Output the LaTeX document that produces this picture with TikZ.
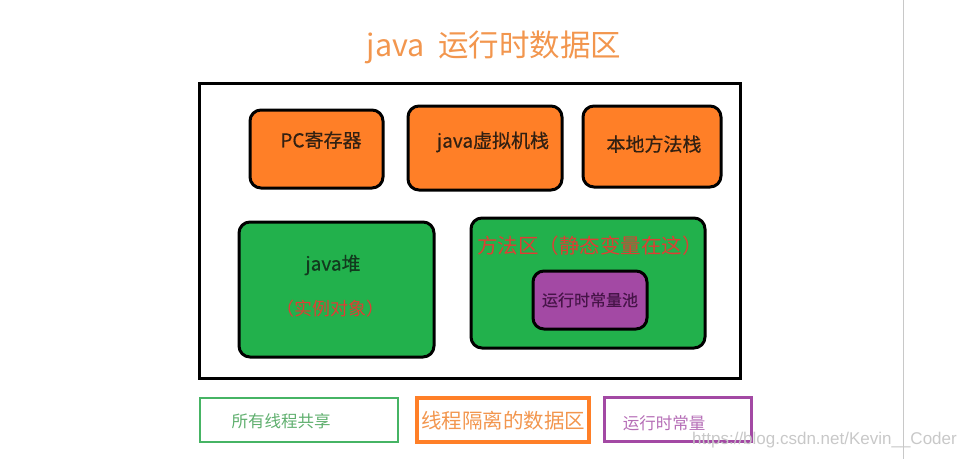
\documentclass[tikz,border=0pt]{standalone}
\usepackage{fontspec}
\setmainfont{Noto Sans CJK SC}
\newfontfamily\heavyfont[FakeBold=0.5]{Noto Sans CJK SC}
\usetikzlibrary{positioning}

\definecolor{paintorange}{RGB}{255,127,39}
\definecolor{paintgreen}{RGB}{34,177,76}
\definecolor{paintpurple}{RGB}{163,73,164}
\definecolor{titleorange}{RGB}{242,150,78}
\definecolor{notered}{RGB}{222,62,52}
\definecolor{keygreen}{RGB}{70,180,100}
\definecolor{keytext}{RGB}{95,175,110}
\definecolor{inkbrown}{RGB}{50,32,18}
\definecolor{inkgreen}{RGB}{18,58,30}
\definecolor{inkpurple}{RGB}{70,20,72}
\definecolor{markgray}{RGB}{200,200,200}

\newcommand{\px}[1]{\fontsize{#1pt}{#1pt}\selectfont}

\begin{document}
\begin{tikzpicture}[
    x=1pt,y=-1pt,
    area/.style={draw=black,line width=3pt,rounded corners=11pt,inner sep=0pt},
    tag/.style={inner sep=0pt,text=inkbrown,font=\heavyfont\px{19}},
    key/.style={line width=2.5pt,inner sep=0pt}
]
    \useasboundingbox (0,0) rectangle (968,459);

    % screenshot edge on the right
    \draw[markgray,line width=.6pt] (903,0) -- (903,459);

    \node[inner sep=0pt,text=titleorange,font=\px{30.5}] (title) at (494,47) {java\ \ 运行时数据区};

    % runtime data area frame
    \node[draw=black,line width=3pt,minimum width=541pt,minimum height=295pt,inner sep=0pt] (frame) at (469.5,230.5) {};

    % thread private areas
    \node[area,fill=paintorange,minimum width=133pt,minimum height=78pt] (pc) at (316.5,149) {};
    \node[area,fill=paintorange,minimum width=154pt,minimum height=84pt] (vmstack) at (485,148) {};
    \node[area,fill=paintorange,minimum width=138pt,minimum height=81pt] (native) at (652,146.5) {};
    \node[tag] (pctext) at (321,140) {PC寄存器};
    \node[tag] (vmstacktext) at (493,142) {java虚拟机栈};
    \node[tag] (nativetext) at (654,144) {本地方法栈};

    % shared areas
    \node[area,fill=paintgreen,minimum width=195pt,minimum height=135pt] (heap) at (336.5,289.5) {};
    \node[area,fill=paintgreen,minimum width=234pt,minimum height=130pt] (method) at (588,283) {};
    \node[tag,text=inkgreen] (heaptext) at (333,265) {java堆};
    \node[tag,text=notered,font=\px{18}] (heapnote) at (330,309) {（实例对象）};
    \node[tag,text=notered,font=\px{20.5}] (methodtext) at (590,246) {方法区（静态变量在这）};
    \node[area,fill=paintpurple,minimum width=114pt,minimum height=58pt] (pool) at (590,300) {};
    \node[tag,text=inkpurple,font=\heavyfont\px{16}] (pooltext) at (590,300) {运行时常量池};

    % legend
    \node[key,draw=keygreen,minimum width=198pt,minimum height=44pt] (shared) at (299,420) {};
    \node[tag,text=keytext,font=\px{16.5}] (sharedtext) at (281,421) {所有线程共享};
    \node[key,draw=paintorange,line width=3.5pt,minimum width=172pt,minimum height=44pt] (private) at (503,420) {};
    \node[tag,text=titleorange,font=\px{20.5}] (privatetext) at (503,421) {线程隔离的数据区};
    \node[key,draw=paintpurple,line width=3pt,minimum width=147pt,minimum height=44pt] (constant) at (677.5,419) {};
    \node[tag,text=paintpurple!80!white,font=\px{16.5}] (constanttext) at (664,423) {运行时常量};

    \node[inner sep=0pt,anchor=east,text=markgray,font=\fontspec{Liberation Sans}\fontsize{17pt}{17pt}\selectfont] (mark) at (957,440) {https://blog.csdn.net/Kevin\_\_Coder};
\end{tikzpicture}
\end{document}
